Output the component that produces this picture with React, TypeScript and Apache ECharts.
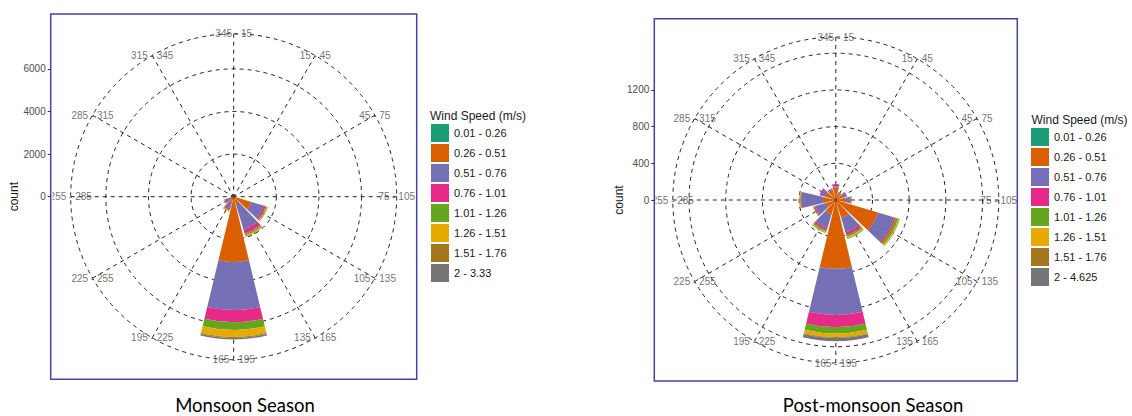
import React, { useEffect, useRef } from "react";
import * as echarts from "echarts";

const FONT = "'Liberation Sans', Arial, sans-serif";

const dirLabels = [
  "345 - 15", "15 - 45", "45 - 75", "75 - 105", "105 - 135", "135 - 165",
  "165 - 195", "195 - 225", "225 - 255", "255 - 285", "285 - 315", "315 - 345",
];
const dirAngles = [0, 30, 60, 90, 120, 150, 180, 210, 240, 270, 300, 330];

const speedBins = [
  "0.01 - 0.26", "0.26 - 0.51", "0.51 - 0.76", "0.76 - 1.01",
  "1.01 - 1.26", "1.26 - 1.51", "1.51 - 1.76",
];
const lastBinMonsoon = "2 - 3.33";
const lastBinPost = "2 - 4.625";

const binColors = ["#1B9E77", "#D95F02", "#7570B3", "#E7298A", "#66A61E", "#E6AB02", "#A6761D", "#767676"];

// Monsoon season counts, per speed bin, per direction (12 directions)
const monTeal = [5, 5, 5, 10, 20, 20, 40, 10, 10, 5, 5, 5];
const monOrange = [20, 15, 20, 60, 850, 350, 3030, 250, 180, 30, 20, 20];
const monPurple = [0, 0, 0, 10, 600, 1250, 2250, 300, 200, 0, 0, 0];
const monPink = [0, 0, 0, 0, 90, 190, 570, 80, 50, 0, 0, 0];
const monGreen = [0, 0, 0, 0, 60, 90, 360, 50, 30, 0, 0, 0];
const monYellow = [0, 0, 0, 0, 40, 50, 330, 40, 20, 0, 0, 0];
const monBrown = [0, 0, 0, 0, 10, 10, 50, 5, 5, 0, 0, 0];
const monGray = [0, 0, 0, 0, 10, 10, 70, 5, 5, 0, 0, 0];

// Post-monsoon season counts
const postTeal = [5, 5, 5, 5, 10, 5, 15, 5, 5, 5, 5, 5];
const postOrange = [130, 70, 90, 105, 470, 200, 735, 160, 110, 135, 115, 110];
const postPurple = [15, 15, 30, 45, 180, 165, 503, 155, 120, 235, 45, 15];
const postPink = [25, 0, 5, 10, 20, 27, 134, 22, 15, 8, 20, 5];
const postGreen = [0, 0, 0, 10, 30, 25, 68, 20, 8, 8, 0, 0];
const postYellow = [0, 0, 0, 5, 15, 15, 38, 10, 5, 8, 0, 0];
const postBrown = [0, 0, 0, 0, 3, 3, 10, 2, 0, 2, 0, 0];
const postGray = [0, 0, 0, 0, 2, 5, 36, 2, 0, 0, 0, 0];

const monTicks = [0, 2000, 4000, 6000];
const postTicks = [0, 400, 800, 1200];
const monMax = 7650;
const postMax = 1777;

const monSeries = [monTeal, monOrange, monPurple, monPink, monGreen, monYellow, monBrown, monGray];
const postSeries = [postTeal, postOrange, postPurple, postPink, postGreen, postYellow, postBrown, postGray];

const R = 163;
const C1: [number, number] = [233.7, 196.7];
const C2: [number, number] = [835.8, 200];

function buildChart(idx: number, center: [number, number], max: number, interval: number, ticks: number[], values: number[][], lastBin: string, panel: number[]) {
  const gridPolar = idx * 2;
  const barPolar = idx * 2 + 1;
  const dashed = { type: [4, 4] as any, color: "#222", width: 1 };
  const names = [...speedBins, lastBin];
  return {
    polar: [
      { center, radius: R },
      { center, radius: R },
    ],
    angleAxis: [
      {
        polarIndex: gridPolar, type: "value", min: 0, max: 360, interval: 30, startAngle: 90, clockwise: true,
        axisLine: { show: false }, axisTick: { show: false }, axisLabel: { show: false },
        splitLine: { show: true, lineStyle: dashed },
      },
      {
        polarIndex: barPolar, type: "category", data: dirLabels, startAngle: 105, clockwise: true, boundaryGap: true,
        axisLine: { show: false }, axisTick: { show: false }, axisLabel: { show: false }, splitLine: { show: false },
      },
    ],
    radiusAxis: [
      {
        polarIndex: gridPolar, type: "value", min: 0, max, interval,
        axisLine: { show: false }, axisTick: { show: false }, axisLabel: { show: false },
        splitLine: { show: true, lineStyle: dashed },
      },
      { polarIndex: barPolar, type: "value", min: 0, max, show: false, splitLine: { show: false } },
    ],
    grid: {
      left: panel[0], top: center[1] - R, height: R, width: 1,
    },
    xAxis: { gridIndex: idx, type: "value", show: false },
    yAxis: {
      gridIndex: idx, type: "value", min: 0, max, z: 200,
      axisLine: { show: false },
      axisTick: { show: true, length: 3, lineStyle: { color: "#333" }, customValues: ticks },
      axisLabel: {
        show: true, color: "#4d4d4d", fontSize: 10, fontFamily: FONT, margin: 5, customValues: ticks,
        formatter: (v: number) => String(v),
      },
      splitLine: { show: false },
    },
    series: [
      ...values.map((vals, i) => ({
        name: names[i], type: "bar", coordinateSystem: "polar", polarIndex: barPolar,
        stack: "s" + idx, data: vals, barCategoryGap: "10%",
        itemStyle: { color: binColors[i] }, emphasis: { disabled: true },
      })),
      {
        name: "", type: "scatter", coordinateSystem: "polar", polarIndex: gridPolar, symbolSize: 0, clip: false,
        itemStyle: { color: "transparent" }, z: 3,
        data: dirLabels.map((l, i) => ({ value: [max, dirAngles[i]], name: l })),
        label: { show: true, position: "inside", formatter: "{b}", color: "#4d4d4d", fontSize: 10, fontFamily: FONT },
      },
    ],
    legend: {
      left: panel[4], top: panel[5], orient: "vertical", itemWidth: 18, itemHeight: 18, itemGap: 2, icon: "rect",
      padding: 0, selectedMode: false, z: 200, data: names,
      textStyle: { fontSize: 11, color: "#1a1a1a", fontFamily: FONT },
    },
  };
}

export default function App() {
  const ref = useRef<HTMLDivElement>(null);
  useEffect(() => {
    if (!ref.current) return;
    const chart = echarts.init(ref.current, null, { renderer: "svg" });
    // panel: [left, top, right, bottom, legendLeft, legendTop]
    const p1 = [50.7, 14, 416.7, 379.3, 431, 124];
    const p2 = [654.3, 18.7, 1017.3, 381, 1031, 128];
    const a = buildChart(0, C1, monMax, 2000, monTicks, monSeries, lastBinMonsoon, p1);
    const b = buildChart(1, C2, postMax, 400, postTicks, postSeries, lastBinPost, p2);
    const border = (p: number[]) => ({
      type: "rect", z: 110, silent: true,
      shape: { x: p[0], y: p[1], width: p[2] - p[0], height: p[3] - p[1] },
      style: { fill: "none", stroke: "#4444a6", lineWidth: 1.5 },
    });
    const cover = (x: number, w: number) => ({
      type: "rect", z: 100, silent: true,
      shape: { x, y: 0, width: w, height: 392 },
      style: { fill: "#fff" },
    });
    const capFont = "Lato, 'Open Sans', sans-serif";
    const option: any = {
      animation: false,
      backgroundColor: "#fff",
      textStyle: { fontFamily: FONT },
      polar: [...a.polar, ...b.polar],
      angleAxis: [...a.angleAxis, ...b.angleAxis],
      radiusAxis: [...a.radiusAxis, ...b.radiusAxis],
      grid: [a.grid, b.grid],
      xAxis: [a.xAxis, b.xAxis],
      yAxis: [a.yAxis, b.yAxis],
      legend: [a.legend, b.legend],
      series: [...a.series, ...b.series],
      graphic: [
        cover(0, 52.5), cover(417.5, 10), cover(545, 110.5), cover(1018, 11),
        border(p1), border(p2),
        { type: "text", z: 150, x: 14, y: 196.7, rotation: Math.PI / 2, style: { text: "count", fontSize: 12, fontFamily: FONT, fill: "#1a1a1a", align: "center", verticalAlign: "middle" } },
        { type: "text", z: 150, x: 619, y: 200, rotation: Math.PI / 2, style: { text: "count", fontSize: 12, fontFamily: FONT, fill: "#1a1a1a", align: "center", verticalAlign: "middle" } },
        { type: "text", z: 150, x: 430, y: 115.7, style: { text: "Wind Speed (m/s)", fontSize: 12, fontFamily: FONT, fill: "#1a1a1a", align: "left", verticalAlign: "middle" } },
        { type: "text", z: 150, x: 1031.5, y: 120, style: { text: "Wind Speed (m/s)", fontSize: 12, fontFamily: FONT, fill: "#1a1a1a", align: "left", verticalAlign: "middle" } },
        { type: "text", z: 150, x: 245, y: 405, style: { text: "Monsoon Season", fontSize: 18.5, fontFamily: capFont, fill: "#000", align: "center", verticalAlign: "middle" } },
        { type: "text", z: 150, x: 873, y: 405, style: { text: "Post-monsoon Season", fontSize: 18.5, fontFamily: capFont, fill: "#000", align: "center", verticalAlign: "middle" } },
      ],
    };
    chart.setOption(option);
    return () => chart.dispose();
  }, []);
  return (
    <div
      ref={ref}
      style={{ position: "fixed", left: 0, top: 0, width: 1132, height: 416, background: "#fff" }}
    />
  );
}
